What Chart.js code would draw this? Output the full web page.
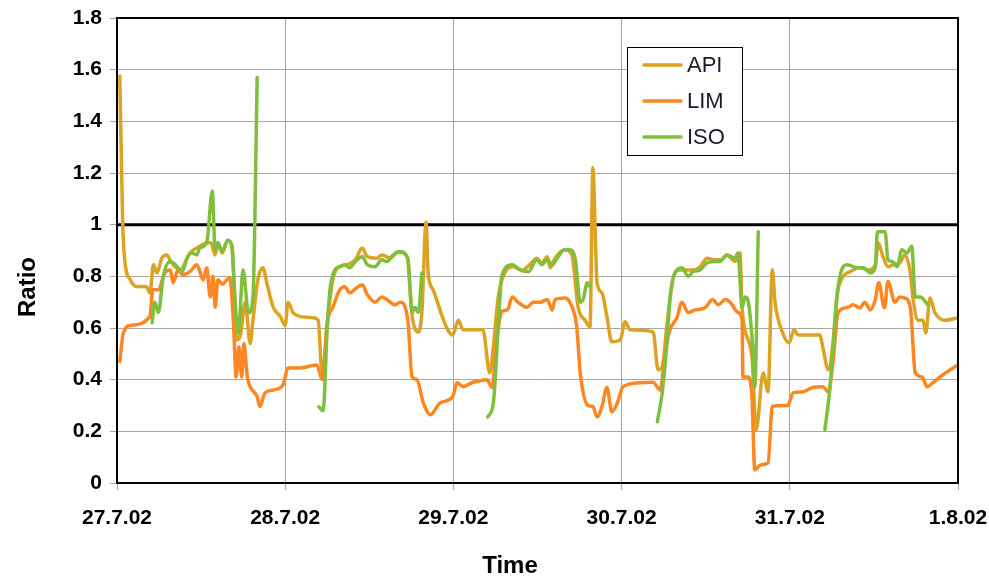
<!DOCTYPE html>
<html>
<head>
<meta charset="utf-8">
<script src="https://cdn.jsdelivr.net/npm/chart.js@4/dist/chart.umd.min.js"></script>
<style>
  body { margin: 0; background: #fff; }
  #wrap { width: 989px; height: 577px; }
</style>
</head>
<body>
<div id="wrap"><canvas id="ratioChart"></canvas></div>
<script>
// hours since 27.7.02 00:00, ratio
const dayLabels = ['27.7.02', '28.7.02', '29.7.02', '30.7.02', '31.7.02', '1.8.02'];
const yTicks = [0, 1.8, 0.2];

const apiSeries = [
  [0.4,1.575],[0.8,1.02],[1.1,0.864],[1.9,0.787],[2.8,0.761],[4.2,0.76],[4.7,0.736],[5.2,0.845],[5.7,0.813],
  [6.4,0.871],[7.1,0.883],[7.8,0.852],[9.0,0.825],[10.4,0.89],[11.8,0.916],[12.8,0.93],[13.4,0.93],[14.0,0.883],
  [14.4,0.93],[15.0,0.89],[15.8,0.94],[16.4,0.916],[16.8,0.72],[17.1,0.554],[17.6,0.57],[18.3,0.70],[19.0,0.54],
  [19.4,0.63],[20.1,0.787],[20.8,0.833],[21.5,0.76],[22.3,0.68],[23.3,0.645],[24.0,0.61],[24.4,0.70],[25.1,0.66],
  [26.1,0.645],[28.0,0.64],[28.7,0.63],[29.3,0.41],[30.0,0.62],[30.8,0.787],[31.5,0.833],[32.8,0.845],[34.0,0.864],
  [35.0,0.91],[35.7,0.876],[37.1,0.87],[37.8,0.883],[39.0,0.87],[40.1,0.895],[41.4,0.876],[42.0,0.68],[42.2,0.63],
  [43.0,0.585],[43.5,0.66],[44.1,1.01],[44.4,0.813],[45.1,0.748],[46.4,0.645],[47.2,0.593],[47.9,0.573],[48.7,0.63],
  [49.4,0.593],[52.2,0.593],[53.2,0.426],[53.7,0.527],[54.4,0.72],[55.1,0.80],[56.4,0.837],[57.9,0.825],[58.9,0.845],
  [59.9,0.87],[60.6,0.852],[61.4,0.876],[61.8,0.833],[62.5,0.87],[63.9,0.903],[64.9,0.883],[65.8,0.68],[66.8,0.63],
  [67.5,0.605],[67.9,1.22],[68.5,0.775],[69.2,0.736],[69.9,0.645],[70.6,0.547],[71.8,0.554],[72.5,0.624],[73.2,0.593],
  [76.5,0.585],[77.2,0.438],[77.8,0.45],[78.5,0.62],[79.3,0.787],[80.3,0.825],[82.2,0.825],[83.2,0.837],[84.2,0.87],
  [85.3,0.864],[86.3,0.864],[87.0,0.883],[88.2,0.857],[88.9,0.89],[89.2,0.67],[90.6,0.49],[91.2,0.205],[92.2,0.426],
  [92.9,0.353],[93.5,0.825],[93.9,0.70],[95.0,0.58],[95.9,0.543],[96.6,0.593],[97.2,0.573],[100.3,0.573],[100.7,0.527],
  [101.5,0.438],[102.2,0.554],[102.7,0.72],[103.5,0.795],[104.6,0.818],[106.0,0.833],[107.2,0.825],[108.2,0.845],
  [108.6,0.93],[109.3,0.876],[110.0,0.837],[110.7,0.845],[111.7,0.852],[112.4,0.883],[113.2,0.813],[113.6,0.71],
  [114.3,0.63],[115.0,0.63],[115.4,0.58],[116.0,0.716],[116.7,0.66],[118.2,0.63],[120.0,0.64]
];

const limSeries = [
  [0.4,0.47],[0.9,0.58],[1.9,0.61],[4.7,0.645],[5.1,0.748],[5.9,0.748],[6.8,0.813],[7.6,0.825],[8.0,0.775],
  [8.7,0.825],[9.4,0.806],[10.4,0.818],[11.4,0.845],[12.3,0.787],[12.8,0.833],[13.3,0.72],[13.7,0.80],[14.0,0.68],
  [14.4,0.787],[15.0,0.77],[16.1,0.795],[16.6,0.63],[17.0,0.41],[17.4,0.527],[17.8,0.41],[18.1,0.54],[18.6,0.41],
  [19.0,0.373],[20.0,0.334],[20.4,0.296],[21.1,0.348],[22.3,0.36],[23.7,0.38],[24.4,0.445],[26.1,0.445],[28.5,0.457],
  [29.3,0.40],[30.0,0.62],[30.8,0.68],[31.8,0.748],[32.5,0.76],[33.2,0.736],[34.2,0.756],[35.0,0.767],[35.7,0.73],
  [36.8,0.70],[37.8,0.72],[38.5,0.71],[39.7,0.69],[40.4,0.70],[41.5,0.63],[42.1,0.41],[42.8,0.40],[43.7,0.31],
  [44.7,0.264],[46.1,0.31],[47.9,0.334],[48.5,0.388],[49.4,0.373],[50.8,0.39],[52.8,0.40],[53.5,0.37],[54.2,0.554],
  [54.9,0.663],[55.7,0.67],[56.4,0.72],[57.2,0.70],[58.5,0.68],[59.4,0.70],[60.4,0.70],[61.4,0.71],[62.1,0.67],
  [62.5,0.71],[63.9,0.716],[64.6,0.70],[65.6,0.605],[66.1,0.426],[67.2,0.30],[67.9,0.296],[68.5,0.256],[69.2,0.296],
  [69.9,0.37],[70.6,0.276],[71.4,0.31],[72.2,0.373],[74.6,0.388],[76.5,0.39],[77.5,0.36],[78.2,0.503],[78.9,0.593],
  [79.9,0.64],[80.6,0.70],[81.5,0.66],[82.5,0.67],[83.9,0.678],[85.0,0.71],[85.8,0.69],[86.8,0.71],[87.5,0.70],
  [88.6,0.66],[89.2,0.63],[89.3,0.41],[90.0,0.41],[90.6,0.334],[91.0,0.05],[91.8,0.07],[92.9,0.078],[93.5,0.296],
  [95.7,0.30],[96.5,0.35],[97.9,0.353],[99.3,0.37],[100.7,0.373],[101.5,0.353],[102.2,0.477],[102.9,0.66],[104.3,0.68],
  [105.0,0.69],[106.0,0.678],[106.7,0.70],[107.5,0.67],[108.2,0.71],[108.7,0.775],[109.5,0.678],[110.0,0.78],
  [111.0,0.70],[111.7,0.72],[112.4,0.716],[113.2,0.68],[113.9,0.426],[114.9,0.41],[115.6,0.373],[116.4,0.388],
  [117.9,0.42],[120.0,0.457]
];

// null rows break the line between daily runs
const isoSeries = [
  [5.0,0.62],[5.4,0.70],[5.9,0.66],[6.6,0.80],[7.6,0.857],[8.6,0.837],[9.3,0.818],[10.0,0.87],[10.7,0.89],[11.4,0.883],
  [11.8,0.91],[12.8,0.93],[13.6,1.13],[14.0,0.90],[14.4,0.93],[15.0,0.895],[15.8,0.94],[16.4,0.916],[16.8,0.72],
  [17.3,0.58],[18.0,0.825],[18.6,0.68],[18.8,0.66],[19.4,0.72],[20.0,1.57],
  [24.0,null],
  [28.8,0.295],[29.4,0.28],[30.0,0.60],[30.4,0.75],[31.1,0.825],[31.8,0.837],[32.5,0.845],[33.2,0.833],[34.0,0.857],
  [35.0,0.876],[35.7,0.845],[36.8,0.837],[37.8,0.864],[38.5,0.857],[39.4,0.883],[40.4,0.895],[41.5,0.87],[42.1,0.66],
  [42.5,0.68],[43.0,0.66],[43.5,0.813],
  [48.0,null],
  [52.9,0.256],[53.7,0.31],[54.4,0.605],[54.9,0.80],[56.4,0.845],[57.5,0.825],[58.7,0.818],[59.9,0.864],[60.6,0.845],
  [61.4,0.864],[62.1,0.845],[62.8,0.87],[63.9,0.903],[64.6,0.903],[65.4,0.864],[66.1,0.70],[66.5,0.71],[67.1,0.775],
  [67.5,0.76],
  [72.0,null],
  [77.1,0.237],[77.8,0.35],[78.5,0.554],[78.9,0.71],[79.6,0.813],[80.6,0.833],[81.5,0.80],[82.2,0.818],[83.2,0.825],
  [84.2,0.852],[85.3,0.857],[86.0,0.857],[87.0,0.883],[88.2,0.87],[88.6,0.89],[89.2,0.68],[89.6,0.72],[90.0,0.71],
  [90.6,0.566],[91.0,0.373],[91.5,0.973],
  [96.0,null],
  [101.0,0.205],[101.7,0.36],[102.2,0.527],[102.7,0.71],[103.2,0.806],[104.2,0.845],[105.6,0.833],[106.5,0.833],
  [107.5,0.813],[108.2,0.837],[108.5,0.973],[109.6,0.973],[110.0,0.864],[110.7,0.857],[111.3,0.837],[112.0,0.903],
  [112.7,0.89],[113.4,0.916],[113.9,0.72],[114.6,0.72],[115.7,0.69]
];

const thresholdSeries = [[0, 1], [120, 1]];

const seriesNames = ['API', 'LIM', 'ISO'];
const seriesColors = ['#DCA221', '#FF8620', '#80BE3E'];

function toPoints(rows) {
  return rows.map(function (r) { return { x: r[0], y: r[1] }; });
}

// frame, in-plot legend and axis titles
const decorPlugin = {
  id: 'decor',
  afterDatasetsDraw: function (chart) {
    const a = chart.chartArea;
    const ctx = chart.ctx;
    ctx.save();
    ctx.strokeStyle = '#000';
    ctx.lineWidth = 2;
    ctx.strokeRect(a.left, a.top, a.right - a.left, a.bottom - a.top);
    ctx.restore();
  },
  afterDraw: function (chart) {
    const ctx = chart.ctx;
    ctx.save();
    // legend box
    ctx.fillStyle = '#fff';
    ctx.fillRect(627, 47, 115, 108);
    ctx.strokeStyle = '#000';
    ctx.lineWidth = 1;
    ctx.strokeRect(627.5, 47.5, 115, 108);
    const rowY = [65, 101, 137];
    ctx.font = '22px "Liberation Sans", Arial, sans-serif';
    ctx.textBaseline = 'middle';
    seriesNames.forEach(function (name, i) {
      ctx.strokeStyle = seriesColors[i];
      ctx.lineWidth = 3.5;
      ctx.lineCap = 'round';
      ctx.beginPath();
      ctx.moveTo(644, rowY[i]);
      ctx.lineTo(681, rowY[i]);
      ctx.stroke();
      ctx.fillStyle = '#1a1a2a';
      ctx.fillText(name, 687, rowY[i] + 1);
    });
    // axis titles
    ctx.fillStyle = '#000';
    ctx.font = 'bold 24px "Liberation Sans", Arial, sans-serif';
    ctx.textAlign = 'center';
    ctx.textBaseline = 'middle';
    ctx.fillText('Time', 510, 566);
    ctx.translate(28, 287);
    ctx.rotate(-Math.PI / 2);
    ctx.fillText('Ratio', 0, 0);
    ctx.restore();
  }
};

const lineStyle = { pointRadius: 0, borderWidth: 3.5, fill: false, cubicInterpolationMode: 'monotone', borderJoinStyle: 'round', borderCapStyle: 'round' };

new Chart(document.getElementById('ratioChart'), {
  type: 'line',
  data: {
    datasets: [
      Object.assign({ label: 'ISO', data: toPoints(isoSeries), borderColor: seriesColors[2], order: 1 }, lineStyle),
      Object.assign({ label: 'LIM', data: toPoints(limSeries), borderColor: seriesColors[1], order: 2 }, lineStyle),
      Object.assign({ label: 'API', data: toPoints(apiSeries), borderColor: seriesColors[0], order: 3 }, lineStyle),
      { label: 'limit', data: toPoints(thresholdSeries), borderColor: '#000', borderWidth: 3, pointRadius: 0, order: 4 }
    ]
  },
  options: {
    responsive: true,
    maintainAspectRatio: false,
    animation: false,
    layout: { padding: { left: 0, top: 18, right: 31, bottom: 0 } },
    plugins: { legend: { display: false }, tooltip: { enabled: false } },
    scales: {
      x: {
        type: 'linear',
        min: 0,
        max: 120,
        afterFit: function (s) { s.height = 94; s.paddingLeft = 0; s.paddingRight = 0; },
        afterBuildTicks: function (s) { s.ticks = dayLabels.map(function (d, i) { return { value: i * 24 }; }); },
        ticks: {
          color: '#000',
          font: { family: '"Liberation Sans", Arial, sans-serif', size: 21, weight: 'bold' },
          padding: 16,
          maxRotation: 0,
          callback: function (v) { return dayLabels[Math.round(v / 24)]; }
        },
        grid: { color: '#a6a6a6', lineWidth: 1, tickLength: 7 },
        border: { display: false }
      },
      y: {
        min: yTicks[0],
        max: yTicks[1],
        afterFit: function (s) { s.width = 117; s.paddingTop = 0; s.paddingBottom = 0; },
        ticks: {
          stepSize: yTicks[2],
          color: '#000',
          font: { family: '"Liberation Sans", Arial, sans-serif', size: 21, weight: 'bold' },
          padding: 8,
          callback: function (v) { return String(Number(v.toFixed(1))); }
        },
        grid: { color: '#a6a6a6', lineWidth: 1, tickLength: 7 },
        border: { display: false }
      }
    }
  },
  plugins: [decorPlugin]
});
</script>
</body>
</html>
